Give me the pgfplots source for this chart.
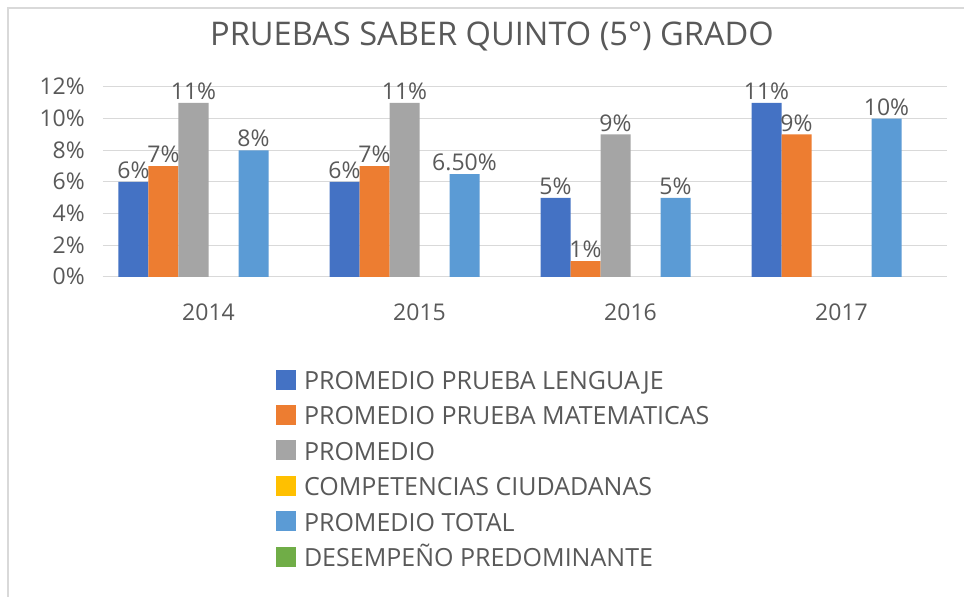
\documentclass[border=0pt]{standalone}
\usepackage{fontspec}
\setmainfont{Open Sans}
\usepackage{pgfplots}
\pgfplotsset{compat=1.18}
\definecolor{cblue}{HTML}{4472C4}
\definecolor{corange}{HTML}{ED7D31}
\definecolor{cgray}{HTML}{A5A5A5}
\definecolor{cyellow}{HTML}{FFC000}
\definecolor{clblue}{HTML}{5B9BD5}
\definecolor{cgreen}{HTML}{70AD47}
\definecolor{gridc}{HTML}{D9D9D9}
\definecolor{txt}{HTML}{595959}
\begin{document}
\begin{tikzpicture}
\useasboundingbox (0,0) rectangle (964pt,597pt);
\fill[white] (0,0) rectangle (964pt,597pt);
\draw[color=gridc, line width=1.5pt] (8pt,0) -- (8pt,589pt) -- (964pt,589pt);
\node[anchor=base, text=txt, font=\fontsize{32.6}{38}\selectfont, inner sep=0pt] at (492pt,551pt) {PRUEBAS SABER QUINTO (5°) GRADO};
\begin{axis}[
  at={(103pt,320pt)}, anchor=south west, scale only axis,
  width=844pt, height=190pt,
  xmin=-0.5, xmax=3.5, ymin=0, ymax=12,
  ybar=0pt, bar width=30pt,
  xtick={0,1,2,3}, xticklabels={2014,2015,2016,2017},
  ytick={0,2,...,12}, yticklabel={\pgfmathprintnumber{\tick}\%},
  /pgf/number format/assume math mode=true,
  ymajorgrids, grid style={gridc, line width=1pt},
  axis lines*=left,
  x axis line style={gridc, line width=1pt, -},
  y axis line style={draw=none},
  major tick length=0pt,
  tick label style={text=txt, font=\fontsize{23}{27}\selectfont},
  xticklabel style={anchor=base, yshift=-44pt, inner sep=0pt},
  yticklabel style={anchor=base east, xshift=-18pt, yshift=-8pt, inner sep=0pt},
  point meta=explicit symbolic,
  every node near coord/.append style={text=txt, font=\fontsize{23}{27}\selectfont, inner sep=3pt, anchor=south},
  clip=false,
  legend cell align=left,
  legend style={at={(0.205,-0.487)}, anchor=north west, draw=none, fill=none,
    inner sep=0pt, outer sep=0pt, row sep=15.4pt,
    font=\fontsize{25}{29}\selectfont, text=txt,
    nodes={inner sep=0pt, text height=20pt, text depth=0pt},
    /tikz/every odd column/.append style={column sep=8pt}},
  legend image code/.code={\fill[#1] (0pt,-10pt) rectangle (20pt,10pt);},
]
\addplot[fill=cblue, draw=none, nodes near coords] coordinates {(0,6)[6\%] (1,6)[6\%] (2,5)[5\%] (3,11)[11\%]};
\addplot[fill=corange, draw=none, nodes near coords] coordinates {(0,7)[7\%] (1,7)[7\%] (2,1)[1\%] (3,9)[9\%]};
\addplot[fill=cgray, draw=none, nodes near coords] coordinates {(0,11)[11\%] (1,11)[11\%] (2,9)[9\%]};
\addplot[fill=cyellow, draw=none, fill opacity=0, legend image post style={fill opacity=1}] coordinates {(0,0)[0]};
\addplot[fill=clblue, draw=none, nodes near coords] coordinates {(0,8)[8\%] (1,6.5)[6.50\%] (2,5)[5\%] (3,10)[10\%]};
\addplot[fill=cgreen, draw=none, fill opacity=0, legend image post style={fill opacity=1}] coordinates {(0,0)[0]};
\legend{PROMEDIO PRUEBA LENGUAJE, PROMEDIO PRUEBA MATEMATICAS, PROMEDIO, COMPETENCIAS CIUDADANAS, PROMEDIO TOTAL, DESEMPEÑO PREDOMINANTE}
\end{axis}
\end{tikzpicture}
\end{document}
